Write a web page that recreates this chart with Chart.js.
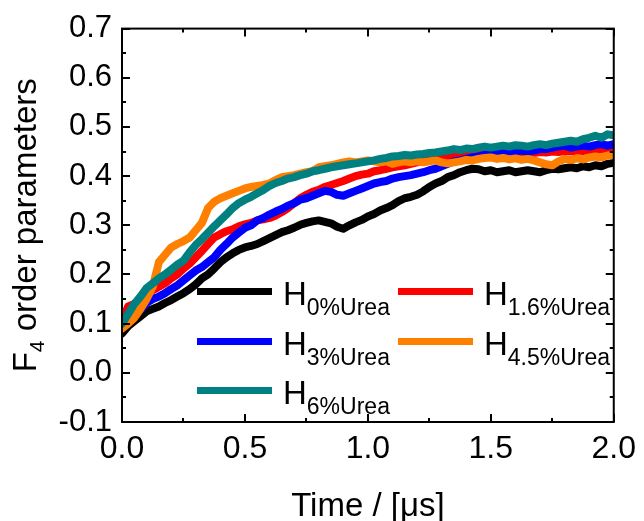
<!DOCTYPE html>
<html>
<head>
<meta charset="utf-8">
<script src="https://cdn.jsdelivr.net/npm/chart.js@4.4.0/dist/chart.umd.min.js"></script>
<style>
  html, body { margin: 0; padding: 0; background: #ffffff; }
  #wrap { width: 644px; height: 521px; }
</style>
</head>
<body>
<div id="wrap"><canvas id="c" width="644" height="521"></canvas></div>
<script>
// Simulation time in microseconds
const time = [
  0.000, 0.025, 0.050, 0.075, 0.100, 0.125, 0.150, 0.175, 0.200, 0.225,
  0.250, 0.275, 0.300, 0.325, 0.350, 0.375, 0.400, 0.425, 0.450, 0.475,
  0.500, 0.525, 0.550, 0.575, 0.600, 0.625, 0.650, 0.675, 0.700, 0.725,
  0.750, 0.775, 0.800, 0.825, 0.850, 0.875, 0.900, 0.925, 0.950, 0.975,
  1.000, 1.025, 1.050, 1.075, 1.100, 1.125, 1.150, 1.175, 1.200, 1.225,
  1.250, 1.275, 1.300, 1.325, 1.350, 1.375, 1.400, 1.425, 1.450, 1.475,
  1.500, 1.525, 1.550, 1.575, 1.600, 1.625, 1.650, 1.675, 1.700, 1.725,
  1.750, 1.775, 1.800, 1.825, 1.850, 1.875, 1.900, 1.925, 1.950, 1.975,
  2.000
];

// F4 order parameter for each urea concentration
const f4Urea0 = [
  0.080, 0.095, 0.105, 0.115, 0.125, 0.130, 0.135, 0.142, 0.148, 0.155,
  0.162, 0.170, 0.180, 0.192, 0.200, 0.212, 0.225, 0.235, 0.243, 0.250,
  0.255, 0.258, 0.262, 0.268, 0.274, 0.280, 0.286, 0.290, 0.295, 0.301,
  0.305, 0.308, 0.310, 0.307, 0.304, 0.297, 0.293, 0.300, 0.306, 0.311,
  0.318, 0.323, 0.330, 0.335, 0.341, 0.349, 0.355, 0.358, 0.362, 0.369,
  0.378, 0.385, 0.390, 0.398, 0.402, 0.408, 0.412, 0.415, 0.414, 0.410,
  0.412, 0.408, 0.410, 0.412, 0.408, 0.410, 0.412, 0.410, 0.408, 0.412,
  0.415, 0.414, 0.416, 0.418, 0.416, 0.420, 0.418, 0.422, 0.420, 0.425,
  0.427
];
const f4Urea16 = [
  0.105, 0.135, 0.140, 0.150, 0.160, 0.168, 0.175, 0.182, 0.192, 0.200,
  0.212, 0.222, 0.235, 0.248, 0.262, 0.275, 0.282, 0.288, 0.292, 0.298,
  0.302, 0.305, 0.310, 0.312, 0.315, 0.320, 0.327, 0.335, 0.345, 0.355,
  0.362, 0.368, 0.372, 0.378, 0.382, 0.386, 0.390, 0.395, 0.400, 0.403,
  0.405, 0.410, 0.412, 0.415, 0.418, 0.420, 0.422, 0.425, 0.428, 0.430,
  0.432, 0.435, 0.436, 0.438, 0.440, 0.440, 0.442, 0.443, 0.444, 0.445,
  0.445, 0.444, 0.446, 0.445, 0.447, 0.446, 0.448, 0.447, 0.449, 0.448,
  0.450, 0.449, 0.451, 0.450, 0.452, 0.451, 0.453, 0.452, 0.455, 0.456,
  0.460
];
const f4Urea3 = [
  0.100, 0.110, 0.118, 0.128, 0.142, 0.150, 0.155, 0.162, 0.170, 0.178,
  0.188, 0.198, 0.208, 0.215, 0.225, 0.235, 0.250, 0.262, 0.275, 0.285,
  0.295, 0.300, 0.310, 0.315, 0.322, 0.328, 0.333, 0.340, 0.345, 0.352,
  0.355, 0.360, 0.365, 0.370, 0.368, 0.362, 0.360, 0.365, 0.370, 0.375,
  0.380, 0.385, 0.388, 0.390, 0.395, 0.398, 0.400, 0.402, 0.405, 0.408,
  0.412, 0.415, 0.420, 0.425, 0.430, 0.432, 0.435, 0.438, 0.440, 0.443,
  0.445, 0.447, 0.448, 0.448, 0.450, 0.452, 0.450, 0.452, 0.455, 0.455,
  0.458, 0.460, 0.462, 0.458, 0.460, 0.462, 0.460, 0.463, 0.465, 0.462,
  0.465
];
const f4Urea45 = [
  0.090, 0.100, 0.112, 0.130, 0.150, 0.175, 0.225, 0.240, 0.255, 0.262,
  0.268, 0.275, 0.290, 0.305, 0.335, 0.348, 0.355, 0.360, 0.365, 0.370,
  0.375, 0.378, 0.380, 0.382, 0.385, 0.392, 0.398, 0.400, 0.402, 0.405,
  0.408, 0.410, 0.418, 0.420, 0.422, 0.425, 0.428, 0.430, 0.428, 0.430,
  0.432, 0.430, 0.428, 0.430, 0.425, 0.428, 0.430, 0.428, 0.430, 0.428,
  0.430, 0.432, 0.428, 0.426, 0.428, 0.430, 0.433, 0.432, 0.435, 0.437,
  0.438, 0.435, 0.437, 0.434, 0.436, 0.433, 0.435, 0.432, 0.428, 0.424,
  0.422, 0.430, 0.435, 0.433, 0.436, 0.434, 0.438, 0.440, 0.438, 0.442,
  0.443
];
const f4Urea6 = [
  0.100, 0.120, 0.140, 0.155, 0.172, 0.182, 0.192, 0.200, 0.210, 0.220,
  0.228, 0.245, 0.260, 0.272, 0.285, 0.298, 0.310, 0.322, 0.335, 0.345,
  0.352, 0.358, 0.365, 0.372, 0.380, 0.386, 0.390, 0.395, 0.398, 0.402,
  0.405, 0.410, 0.412, 0.415, 0.418, 0.420, 0.422, 0.424, 0.426, 0.428,
  0.430, 0.432, 0.435, 0.437, 0.440, 0.441, 0.443, 0.442, 0.444, 0.445,
  0.447, 0.448, 0.450, 0.452, 0.455, 0.453, 0.456, 0.455, 0.458, 0.460,
  0.458, 0.460, 0.462, 0.460, 0.463, 0.462, 0.460, 0.463, 0.465, 0.463,
  0.466, 0.468, 0.470, 0.472, 0.470, 0.475, 0.478, 0.482, 0.478, 0.485,
  0.483
];

// Legend text: base letter plus subscript
const legendBase = 'H';
const legendSubs = ['0%Urea', '1.6%Urea', '3%Urea', '4.5%Urea', '6%Urea'];
const seriesColors = ['#000000', '#ff0000', '#0000ff', '#ff8000', '#008080'];
const seriesValues = [f4Urea0, f4Urea16, f4Urea3, f4Urea45, f4Urea6];

const xTitle = 'Time / [\u03bcs]';
const yTitleMain = 'F';
const yTitleSub = '4';
const yTitleRest = ' order parameters';

const FONT = '"Liberation Sans", Arial, Helvetica, sans-serif';

// one decimal, without a stray minus sign on zero
const fmt = v => {
  const r = Math.round(Number(v) * 10) / 10;
  return (r === 0 ? 0 : r).toFixed(1);
};

const datasets = seriesValues.map((vals, i) => ({
  label: legendBase + legendSubs[i],
  data: vals.map((v, k) => ({ x: time[k], y: v })),
  borderColor: seriesColors[i],
  backgroundColor: seriesColors[i],
  borderWidth: 8,
  pointRadius: 0,
  tension: 0,
  borderJoinStyle: 'round',
  borderCapStyle: 'round',
  order: seriesValues.length - i
}));

// Box frame with inward major/minor ticks on all four sides
const framePlugin = {
  id: 'frameTicks',
  afterDatasetsDraw(chart) {
    const { ctx, chartArea: a, scales } = chart;
    const xs = scales.x, ys = scales.y;
    ctx.save();
    ctx.strokeStyle = '#000';
    ctx.lineWidth = 2;
    ctx.strokeRect(a.left, a.top, a.right - a.left, a.bottom - a.top);
    const xt = xs.ticks.map(t => t.value);
    const yt = ys.ticks.map(t => t.value);
    ctx.beginPath();
    xt.forEach((v, i) => {
      const px = Math.round(xs.getPixelForValue(v));
      ctx.moveTo(px, a.bottom); ctx.lineTo(px, a.bottom - 8);
      ctx.moveTo(px, a.top); ctx.lineTo(px, a.top + 8);
      if (i < xt.length - 1) {
        const mx = Math.round(xs.getPixelForValue((v + xt[i + 1]) / 2));
        ctx.moveTo(mx, a.bottom); ctx.lineTo(mx, a.bottom - 4);
        ctx.moveTo(mx, a.top); ctx.lineTo(mx, a.top + 4);
      }
    });
    yt.forEach((v, i) => {
      const py = Math.round(ys.getPixelForValue(v));
      ctx.moveTo(a.left, py); ctx.lineTo(a.left + 8, py);
      ctx.moveTo(a.right, py); ctx.lineTo(a.right - 8, py);
      if (i < yt.length - 1) {
        const my = Math.round(ys.getPixelForValue((v + yt[i + 1]) / 2));
        ctx.moveTo(a.left, my); ctx.lineTo(a.left + 4, my);
        ctx.moveTo(a.right, my); ctx.lineTo(a.right - 4, my);
      }
    });
    ctx.stroke();
    ctx.restore();
  }
};

// Two-column legend with subscripted labels, drawn over the curves
const legendPlugin = {
  id: 'subLegend',
  afterDatasetsDraw(chart) {
    const { ctx, chartArea: a } = chart;
    const colX = [a.left + 75, a.left + 276];
    const rowY = [a.top + 263, a.top + 313, a.top + 362];
    const lineLen = 75;
    ctx.save();
    chart.data.datasets.forEach((ds, i) => {
      const col = i % 2, row = Math.floor(i / 2);
      const x0 = colX[col], y0 = rowY[row];
      ctx.strokeStyle = ds.borderColor;
      ctx.lineWidth = 7;
      ctx.lineCap = 'butt';
      ctx.beginPath();
      ctx.moveTo(x0, y0);
      ctx.lineTo(x0 + lineLen, y0);
      ctx.stroke();
      ctx.fillStyle = '#000';
      ctx.textAlign = 'left';
      ctx.textBaseline = 'alphabetic';
      ctx.font = '33px ' + FONT;
      const tx = x0 + lineLen + 11;
      ctx.fillText(legendBase, tx, y0 + 13);
      const w = ctx.measureText(legendBase).width;
      ctx.font = '23px ' + FONT;
      ctx.fillText(legendSubs[i], tx + w, y0 + 23);
    });
    ctx.restore();
  }
};

// Axis titles (y title carries a subscript)
const titlePlugin = {
  id: 'axisTitles',
  afterDraw(chart) {
    const { ctx, chartArea: a } = chart;
    ctx.save();
    ctx.fillStyle = '#000';
    ctx.textBaseline = 'alphabetic';
    ctx.textAlign = 'center';
    ctx.font = '33px ' + FONT;
    ctx.fillText(xTitle, (a.left + a.right) / 2, 516);

    ctx.font = '33px ' + FONT;
    const wMain = ctx.measureText(yTitleMain).width;
    const wRest = ctx.measureText(yTitleRest).width;
    ctx.font = '21px ' + FONT;
    const wSub = ctx.measureText(yTitleSub).width;
    const total = wMain + wSub + wRest;
    ctx.translate(36, (a.top + a.bottom) / 2);
    ctx.rotate(-Math.PI / 2);
    ctx.textAlign = 'left';
    let x = -total / 2;
    ctx.font = '33px ' + FONT;
    ctx.fillText(yTitleMain, x, 0);
    x += wMain;
    ctx.font = '21px ' + FONT;
    ctx.fillText(yTitleSub, x, 8);
    x += wSub;
    ctx.font = '33px ' + FONT;
    ctx.fillText(yTitleRest, x, 0);
    ctx.restore();
  }
};

new Chart(document.getElementById('c'), {
  type: 'line',
  data: { datasets },
  options: {
    responsive: false,
    animation: false,
    devicePixelRatio: 1,
    layout: { padding: { left: 0, right: 26, top: 26, bottom: 0 } },
    plugins: {
      legend: { display: false },
      tooltip: { enabled: false },
      title: { display: false }
    },
    scales: {
      x: {
        type: 'linear',
        min: 0, max: 2,
        grid: { display: false, drawTicks: false },
        border: { display: false },
        ticks: {
          stepSize: 0.5,
          padding: 8,
          color: '#000',
          font: { family: FONT, size: 32 },
          callback: fmt,
          maxRotation: 0,
          autoSkip: false
        },
        afterFit: s => { s.height = 99; }
      },
      y: {
        min: -0.1, max: 0.7,
        grid: { display: false, drawTicks: false },
        border: { display: false },
        ticks: {
          stepSize: 0.1,
          padding: 10,
          color: '#000',
          font: { family: FONT, size: 31 },
          callback: fmt,
          autoSkip: false
        },
        afterFit: s => { s.width = 122; }
      }
    }
  },
  plugins: [framePlugin, legendPlugin, titlePlugin]
});
</script>
</body>
</html>
